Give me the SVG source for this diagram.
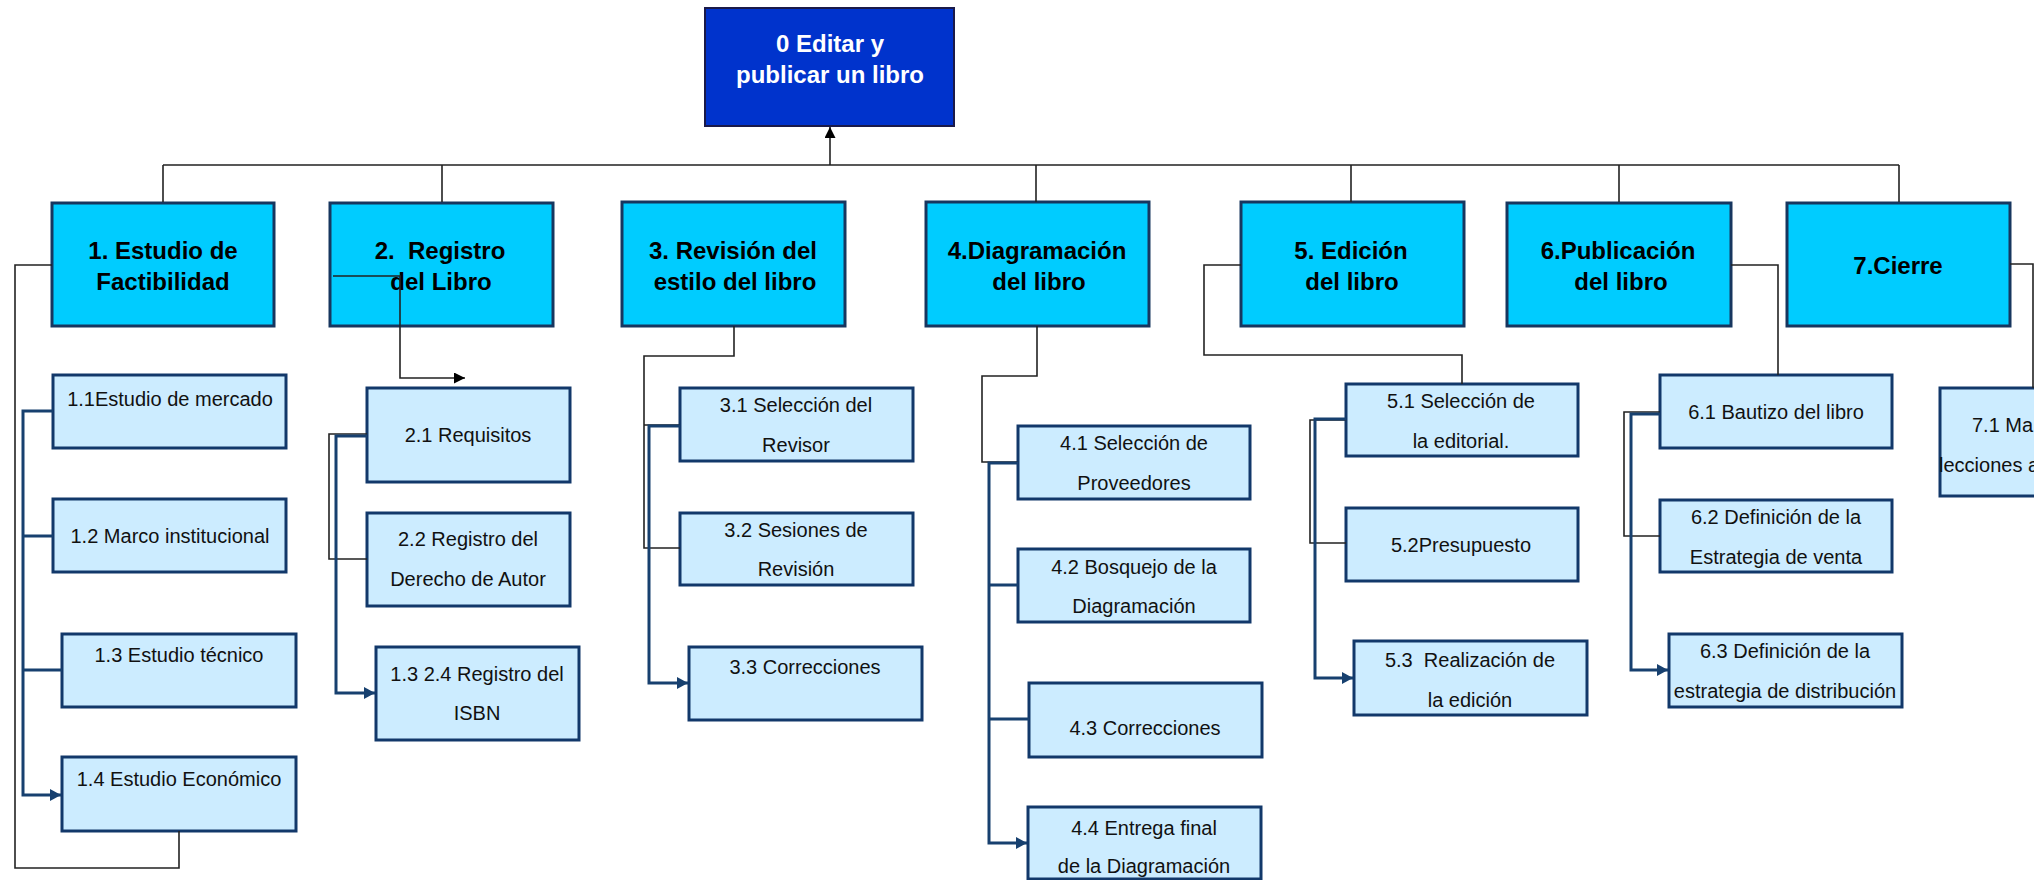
<svg xmlns="http://www.w3.org/2000/svg" width="2034" height="880" viewBox="0 0 2034 880">
<style>
.root{fill:#0033CC;stroke:#1A1A4A;stroke-width:2}
.top{fill:#00CCFF;stroke:#17365F;stroke-width:3}
.sub{fill:#CCECFF;stroke:#12386A;stroke-width:3}
.rt{font-family:"Liberation Sans",Arial,sans-serif;font-weight:bold;font-size:24px;fill:#FFFFFF;text-anchor:middle}
.tt{font-family:"Liberation Sans",Arial,sans-serif;font-weight:bold;font-size:24px;fill:#000000;text-anchor:middle}
.st{font-family:"Liberation Sans",Arial,sans-serif;font-size:20px;fill:#111111;text-anchor:middle}
.thin{fill:none;stroke:#222222;stroke-width:1.6}
.navy{fill:none;stroke:#17406F;stroke-width:3}
</style>
<defs>
<marker id="ab" markerUnits="userSpaceOnUse" markerWidth="12" markerHeight="11" refX="11" refY="5.5" orient="auto"><path d="M0,0 L11,5.5 L0,11 z" fill="#000"/></marker>
<marker id="an" markerUnits="userSpaceOnUse" markerWidth="12" markerHeight="12" refX="11" refY="6" orient="auto"><path d="M0,0 L11,6 L0,12 z" fill="#17406F"/></marker>
</defs>

<g id="n0"><rect class="root" x="705" y="8" width="249" height="118"/><text class="rt" x="830" y="52">0 Editar y</text><text class="rt" x="830" y="83">publicar un libro</text></g>

<g id="n1"><rect class="top" x="52" y="203" width="222" height="123"/><text class="tt" x="163" y="259">1. Estudio de</text><text class="tt" x="163" y="290">Factibilidad</text></g>
<g id="n2"><rect class="top" x="330" y="203" width="223" height="123"/><text class="tt" x="440" y="259" xml:space="preserve">2.  Registro</text><text class="tt" x="441" y="290">del Libro</text></g>
<g id="n3"><rect class="top" x="622" y="202" width="223" height="124"/><text class="tt" x="733" y="259">3. Revisión del</text><text class="tt" x="735" y="290">estilo del libro</text></g>
<g id="n4"><rect class="top" x="926" y="202" width="223" height="124"/><text class="tt" x="1037" y="259">4.Diagramación</text><text class="tt" x="1039" y="290">del libro</text></g>
<g id="n5"><rect class="top" x="1241" y="202" width="223" height="124"/><text class="tt" x="1351" y="259">5. Edición</text><text class="tt" x="1352" y="290">del libro</text></g>
<g id="n6"><rect class="top" x="1507" y="203" width="224" height="123"/><text class="tt" x="1618" y="259">6.Publicación</text><text class="tt" x="1621" y="290">del libro</text></g>
<g id="n7"><rect class="top" x="1787" y="203" width="223" height="123"/><text class="tt" x="1898" y="274">7.Cierre</text></g>

<g id="n1_1"><rect class="sub" x="53" y="375" width="233" height="73"/><text class="st" x="170" y="406">1.1Estudio de mercado</text></g>
<g id="n1_2"><rect class="sub" x="53" y="499" width="233" height="73"/><text class="st" x="170" y="543">1.2 Marco institucional</text></g>
<g id="n1_3"><rect class="sub" x="62" y="634" width="234" height="73"/><text class="st" x="179" y="662">1.3 Estudio técnico</text></g>
<g id="n1_4"><rect class="sub" x="62" y="757" width="234" height="74"/><text class="st" x="179" y="786">1.4 Estudio Económico</text></g>

<g id="n2_1"><rect class="sub" x="367" y="388" width="203" height="94"/><text class="st" x="468" y="442">2.1 Requisitos</text></g>
<g id="n2_2"><rect class="sub" x="367" y="513" width="203" height="93"/><text class="st" x="468" y="546">2.2 Registro del</text><text class="st" x="468" y="586">Derecho de Autor</text></g>
<g id="n2_4"><rect class="sub" x="376" y="647" width="203" height="93"/><text class="st" x="477" y="681">1.3 2.4 Registro del</text><text class="st" x="477" y="720">ISBN</text></g>

<g id="n3_1"><rect class="sub" x="680" y="388" width="233" height="73"/><text class="st" x="796" y="412">3.1 Selección del</text><text class="st" x="796" y="452">Revisor</text></g>
<g id="n3_2"><rect class="sub" x="680" y="513" width="233" height="72"/><text class="st" x="796" y="537">3.2 Sesiones de</text><text class="st" x="796" y="576">Revisión</text></g>
<g id="n3_3"><rect class="sub" x="689" y="647" width="233" height="73"/><text class="st" x="805" y="674">3.3 Correcciones</text></g>

<g id="n4_1"><rect class="sub" x="1018" y="426" width="232" height="73"/><text class="st" x="1134" y="450">4.1 Selección de</text><text class="st" x="1134" y="490">Proveedores</text></g>
<g id="n4_2"><rect class="sub" x="1018" y="549" width="232" height="73"/><text class="st" x="1134" y="574">4.2 Bosquejo de la</text><text class="st" x="1134" y="613">Diagramación</text></g>
<g id="n4_3"><rect class="sub" x="1029" y="683" width="233" height="74"/><text class="st" x="1145" y="735">4.3 Correcciones</text></g>
<g id="n4_4"><rect class="sub" x="1028" y="807" width="233" height="72"/><text class="st" x="1144" y="835">4.4 Entrega final</text><text class="st" x="1144" y="873">de la Diagramación</text></g>

<g id="n5_1"><rect class="sub" x="1346" y="384" width="232" height="72"/><text class="st" x="1461" y="408">5.1 Selección de</text><text class="st" x="1461" y="448">la editorial.</text></g>
<g id="n5_2"><rect class="sub" x="1346" y="508" width="232" height="73"/><text class="st" x="1461" y="552">5.2Presupuesto</text></g>
<g id="n5_3"><rect class="sub" x="1354" y="641" width="233" height="74"/><text class="st" x="1470" y="667" xml:space="preserve">5.3  Realización de</text><text class="st" x="1470" y="707">la edición</text></g>

<g id="n6_1"><rect class="sub" x="1660" y="375" width="232" height="73"/><text class="st" x="1776" y="419">6.1 Bautizo del libro</text></g>
<g id="n6_2"><rect class="sub" x="1660" y="500" width="232" height="72"/><text class="st" x="1776" y="524">6.2 Definición de la</text><text class="st" x="1776" y="564">Estrategia de venta</text></g>
<g id="n6_3"><rect class="sub" x="1669" y="634" width="233" height="73"/><text class="st" x="1785" y="658">6.3 Definición de la</text><text class="st" x="1785" y="698">estrategia de distribución</text></g>

<g id="n7_1"><rect class="sub" x="1940" y="388" width="120" height="108"/><text class="st" x="1972" y="432" style="text-anchor:start">7.1 Ma</text><text class="st" x="1939" y="472" style="text-anchor:start">lecciones a</text></g>

<g id="connectors">
<path class="thin" d="M163,165 H1899 M163,165 V202 M442,165 V202 M1036,165 V202 M1351,165 V202 M1619,165 V202 M1899,165 V202"/>
<path class="thin" d="M830,165 V127" marker-end="url(#ab)"/>
<path class="thin" d="M52,265 H15 V868 H179 V831"/>
<path class="navy" d="M53,411 H23 V795 H61" marker-end="url(#an)"/>
<path class="navy" d="M23,536 H53 M23,670 H62"/>
<path class="thin" d="M333,276 H400 V378 H465" marker-end="url(#ab)"/>
<path class="thin" d="M367,434 H329 V559 H367"/>
<path class="navy" d="M367,436 H336 V693 H375" marker-end="url(#an)"/>
<path class="thin" d="M734,326 V356 H644 V548 H680 M644,425 H680"/>
<path class="navy" d="M680,426 H649 V683 H688" marker-end="url(#an)"/>
<path class="thin" d="M1037,326 V376 H982 V462 H1018"/>
<path class="navy" d="M1018,463 H989 V843 H1027" marker-end="url(#an)"/>
<path class="navy" d="M989,585 H1018 M989,719 H1029"/>
<path class="thin" d="M1241,265 H1204 V355 H1462 V384"/>
<path class="thin" d="M1346,420 H1310 V543 H1346"/>
<path class="navy" d="M1346,419 H1315 V678 H1353" marker-end="url(#an)"/>
<path class="thin" d="M1731,265 H1778 V375"/>
<path class="thin" d="M1660,412 H1624 V536 H1660"/>
<path class="navy" d="M1660,414 H1631 V670 H1668" marker-end="url(#an)"/>
<path class="thin" d="M2010,264 H2033 V388"/>
</g>
</svg>
